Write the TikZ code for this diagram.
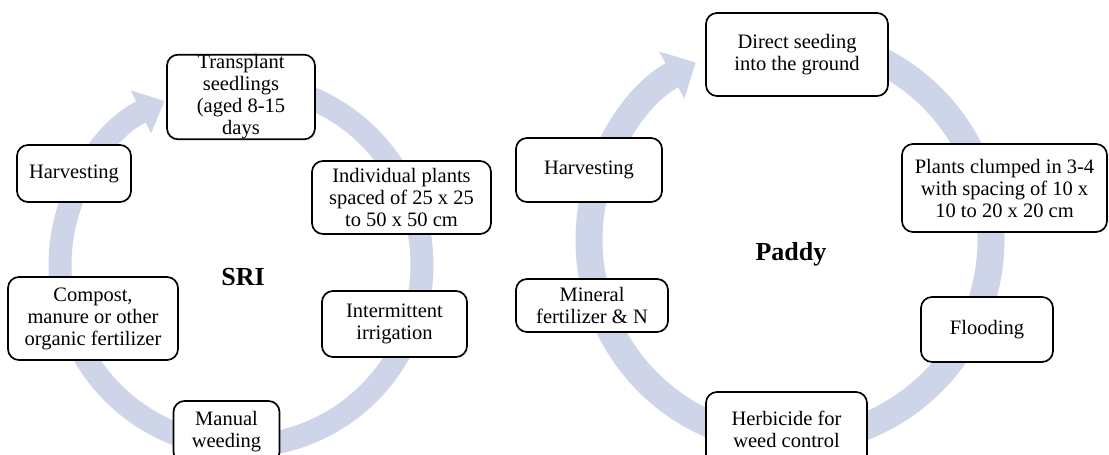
\documentclass[tikz,border=0pt]{standalone}
\usepackage{fontspec}
\setmainfont{Liberation Serif}
\usepackage{xcolor}
\usetikzlibrary{arrows.meta, positioning}

\definecolor{ringblue}{RGB}{207,213,232}

\tikzset{
  stepbox/.style={draw=black, fill=white, line width=1.7pt, rounded corners=11pt,
    align=center, inner xsep=2pt, inner ysep=0pt,
    font=\fontsize{20.5}{22}\selectfont},
  ring/.style={draw=ringblue, line width=#1},
  title/.style={font=\fontsize{26}{28}\selectfont\bfseries}
}

\begin{document}
\begin{tikzpicture}[x=1pt, y=1pt]
            \useasboundingbox (0,0) rectangle (1109,-455);

            % SRI cycle
            \coordinate (sric) at (241,-265);
            \draw[ring=23pt, -{Triangle[width=46pt, length=26pt]}]
              ([shift={(85:181pt)}]sric) arc[start angle=85, end angle=-245, radius=181pt];

            \node[title] (sri) at (243,-277) {SRI};
            \node[stepbox, minimum width=148pt, minimum height=84pt] (s1) at (241,-97)
              {Transplant\\seedlings\\(aged 8-15\\days};
            \node[stepbox, minimum width=179pt, minimum height=73pt] (s2) at (401.5,-197.5)
              {Individual plants\\spaced of 25 x 25\\to 50 x 50 cm};
            \node[stepbox, minimum width=145pt, minimum height=66pt] (s3) at (394.5,-324)
              {Intermittent\\irrigation};
            \node[stepbox, minimum width=106pt, minimum height=62pt] (s4) at (226.5,-432)
              {Manual\\weeding};
            \node[stepbox, minimum width=170pt, minimum height=83pt] (s5) at (93,-318.5)
              {Compost,\\manure or other\\organic fertilizer};
            \node[stepbox, minimum width=114pt, minimum height=57pt] (s6) at (74,-173.5)
              {Harvesting};

            % Paddy cycle
            \coordinate (padc) at (790,-240);
            \draw[ring=27pt, -{Triangle[width=52pt, length=27pt]}]
              ([shift={(85:201pt)}]padc) arc[start angle=85, end angle=-242, radius=201pt];

            \node[title] (paddy) at (791,-254) {Paddy};
            \node[stepbox, minimum width=182pt, minimum height=83pt] (p1) at (797,-54.5)
              {Direct seeding\\into the ground};
            \node[stepbox, minimum width=205pt, minimum height=88pt] (p2) at (1004.5,-188)
              {Plants clumped in 3-4\\with spacing of 10 x\\10 to 20 x 20 cm};
            \node[stepbox, minimum width=132pt, minimum height=65pt] (p3) at (987,-329.5)
              {Flooding};
            \node[stepbox, minimum width=161pt, minimum height=74pt] (p4) at (786.5,-429)
              {Herbicide for\\weed control};
            \node[stepbox, minimum width=152pt, minimum height=53pt] (p5) at (592,-305.5)
              {Mineral\\fertilizer \& N};
            \node[stepbox, minimum width=146pt, minimum height=64pt] (p6) at (589,-170)
              {Harvesting};
        \end{tikzpicture}
\end{document}
